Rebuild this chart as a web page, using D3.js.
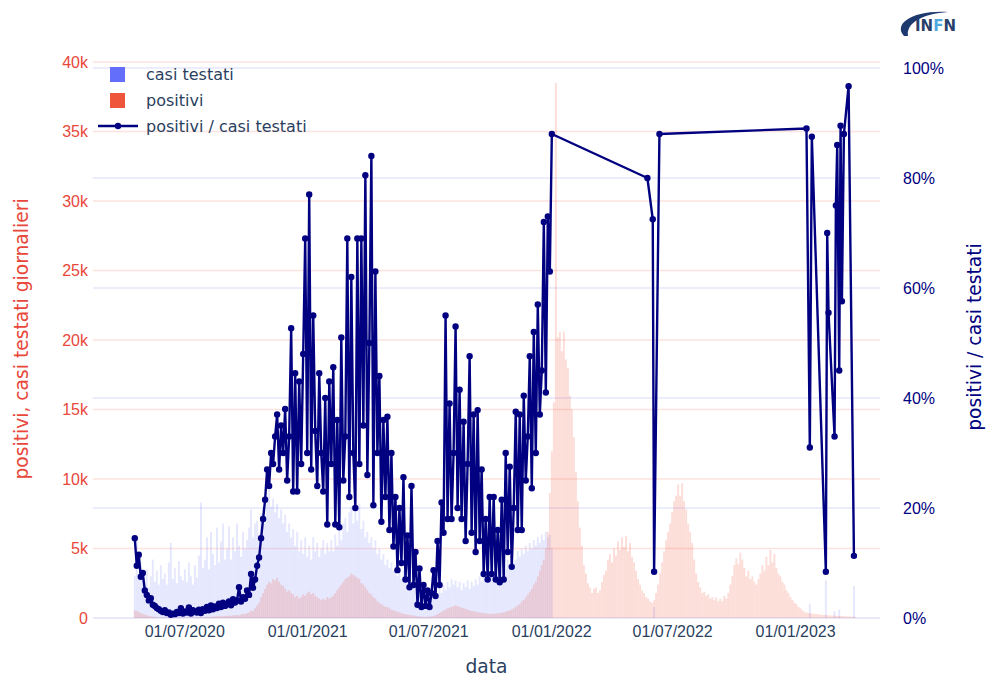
<!DOCTYPE html>
<html>
<head>
<meta charset="utf-8">
<script src="https://cdn.jsdelivr.net/npm/d3@7"></script>
<style>
  body { margin: 0; background: #fff; }
  svg { font-family: "DejaVu Sans", sans-serif; }
</style>
</head>
<body>
<div id="my_dataviz"></div>
<script>
// series sampled every 3 days starting from this date
var startDate = new Date(2020, 3, 18);
var stepDays = 3;

// casi testati (thousands), Apr 2020 -> early Jan 2022
var casiTestati = [
  3.0,5.5,2.8,4.0,3.2,
  2.5,3.5,2.2,3.0,4.2,2.6,3.4,2.4,3.8,2.8,
  3.2,2.4,4.0,5.4,2.8,3.6,2.5,4.1,3.0,2.7,
  3.5,2.6,4.0,3.0,2.4,3.8,2.9,4.5,8.3,3.6,
  4.2,5.8,3.5,6.2,4.6,3.8,6.5,4.0,5.5,6.8,4.2,
  5.0,6.6,4.2,5.8,4.8,6.8,5.2,4.4,6.2,5.0,
  5.6,6.5,7.8,5.8,6.8,7.0,6.0,7.5,8.0,7.2,8.8,
  9.2,8.0,8.6,7.6,8.2,7.2,7.8,6.8,7.4,6.2,
  6.8,5.8,6.4,5.2,6.2,4.8,5.6,4.6,5.8,4.4,
  5.2,4.2,5.8,4.8,5.4,4.4,5.0,5.6,4.6,5.4,4.8,
  5.6,4.8,6.0,5.2,6.4,5.6,6.8,7.2,6.2,
  7.6,8.0,6.8,7.8,7.0,8.2,6.4,7.0,5.8,6.2,5.4,
  5.8,5.0,5.6,4.6,5.0,4.2,4.6,3.8,4.2,3.6,
  4.0,3.4,3.8,3.0,3.6,2.8,3.4,2.6,3.0,2.4,
  2.6,2.2,2.4,1.8,2.2,1.6,2.0,1.5,1.8,1.4,
  1.8,1.5,2.0,1.6,2.2,1.8,2.4,2.0,2.6,2.2,2.8,
  2.4,2.7,2.2,2.6,2.0,2.5,2.2,2.7,2.1,2.6,
  2.3,2.8,2.4,3.0,2.6,3.2,2.8,3.4,2.9,3.3,
  3.0,3.6,3.2,3.8,3.4,4.0,3.5,4.2,3.8,4.4,4.0,
  4.2,4.8,4.4,5.0,4.6,5.2,4.8,5.4,5.0,5.6,
  5.2,5.8,5.4,6.0,5.6,6.2,5.8,6.0,5.0
];

// the few later days that still report casi testati (thousands)
var casiTestatiExtraDates = ["2022-06-04","2023-01-23","2023-02-16","2023-03-01","2023-03-08","2023-03-30"];
var casiTestatiExtra = [0.8, 1.0, 2.7, 0.5, 0.6, 2.3];

// positivi (thousands), Apr 2020 -> end of Mar 2023
var positivi = [
  0.55,0.5,0.45,0.35,0.3,
  0.25,0.2,0.15,0.12,0.1,0.08,0.06,0.05,0.05,0.04,
  0.04,0.03,0.04,0.03,0.03,0.04,0.03,0.04,0.03,0.03,
  0.03,0.03,0.04,0.03,0.04,0.05,0.04,0.05,0.06,0.05,
  0.06,0.08,0.07,0.1,0.09,0.12,0.11,0.13,0.14,0.13,0.15,
  0.15,0.18,0.16,0.2,0.18,0.22,0.2,0.25,0.3,0.28,
  0.35,0.4,0.55,0.5,0.7,0.9,1.1,1.5,1.8,2.1,2.4,
  2.6,2.5,2.8,2.7,2.9,2.6,2.4,2.3,2.1,1.9,
  2.0,1.8,1.7,1.5,1.6,1.4,1.5,1.7,1.6,1.8,
  1.9,1.7,1.8,1.6,1.5,1.4,1.3,1.4,1.3,1.5,1.4,
  1.5,1.6,1.8,2.0,2.2,2.4,2.6,2.8,2.9,
  3.0,3.2,3.1,3.0,2.9,2.8,2.5,2.4,2.2,2.0,1.8,
  1.7,1.5,1.4,1.2,1.1,1.0,0.9,0.8,0.8,0.7,
  0.6,0.55,0.5,0.45,0.4,0.35,0.3,0.28,0.25,0.22,
  0.2,0.18,0.15,0.12,0.1,0.1,0.08,0.08,0.1,0.1,
  0.12,0.15,0.2,0.28,0.35,0.45,0.55,0.6,0.7,0.75,0.8,
  0.85,0.9,0.85,0.8,0.75,0.7,0.65,0.6,0.55,0.5,
  0.5,0.45,0.42,0.4,0.38,0.35,0.33,0.32,0.3,0.3,
  0.3,0.32,0.34,0.36,0.38,0.42,0.45,0.5,0.55,0.6,0.7,
  0.8,0.9,1.0,1.2,1.3,1.5,1.7,1.9,2.1,2.4,
  2.6,3.0,3.4,3.8,4.2,5.0,6.2,9.0,12.0,
  15.5,38.5,20.2,20.6,19.2,20.6,18.6,18.0,16.0,15.0,13.0,10.5,8.4,6.5,5.2,3.8,3.2,2.5,2.2,1.8,2.1,2.2,1.8,
  2.0,2.6,3.1,3.4,4.2,4.6,4.0,5.0,4.5,5.5,4.9,5.8,5.1,5.9,4.8,5.4,4.4,4.0,3.4,2.8,2.4,2.0,1.8,1.5,1.4,1.2,1.1,1.3,
  1.8,2.4,3.2,4.0,4.8,5.6,6.2,6.8,7.6,8.4,8.8,9.6,8.8,9.7,8.4,7.8,6.8,6.2,5.4,4.2,3.2,2.6,2.2,1.8,1.9,1.6,1.7,1.4,1.5,1.3,1.5,1.2,1.4,1.2,1.6,1.4,1.8,
  2.4,3.0,3.8,4.3,3.9,4.7,4.2,3.6,3.0,3.4,2.8,3.0,2.6,2.4,2.8,3.2,3.8,3.4,4.4,3.8,4.9,4.0,4.6,3.6,3.2,3.0,2.6,2.4,2.0,1.8,1.5,1.3,1.1,1.0,0.8,
  0.7,0.55,0.45,0.4,0.35,0.35,0.3,0.3,0.28,0.25,0.25,0.22,0.22,0.2,0.2,0.18,0.18,0.16,0.16,0.15,0.14,0.13,0.12,0.12,0.1,0.1,0.09,0.08
];

// positivi / casi testati (%), same 3-day sampling as casiTestati
var rapporto = [
  14.5,9.5,11.5,7.5,8.2,
  5,4.2,3.2,3.6,2.4,2.2,1.8,1.6,1.3,1.1,
  1.4,0.9,1.0,0.6,0.8,0.7,1.1,0.9,1.8,0.8,
  1.2,1.0,1.9,0.8,1.4,1.2,1.0,1.5,0.9,1.6,
  1.3,2.0,1.4,2.3,1.6,2.1,1.8,2.6,2.0,2.8,2.2,
  2.5,3.0,2.3,3.4,2.8,3.2,5.6,3.0,3.8,3.5,
  5.0,4.2,8.0,5.5,7.0,9.5,11.0,14.5,18.0,21.5,27.0,
  24,30,28,33,37,27,35,30,38,25,
  33,52.7,23,44.5,23,43,28,48,69,30,
  77,27,55,34,24,44.5,30,23,40,17,43,
  28,45.6,17,36,16.5,51,25,33,69,
  22,62,30,20,69,28,69,35,80.5,26,50,
  84,20.5,63,30,44,17.5,36,22,36.6,16,
  30,13,22,8.7,20,10,25.6,7,15,5.6,
  24,6,12,2.4,9,2,6,2.2,5,2,
  4.5,8.7,4,14,6,21,15.5,55,18,39,18,
  30,53,20,41.5,18,35.7,14,28,47.6,15.5,
  37,12,37.8,14,27,8,18,7,22,8,
  22,7,16,6.5,21.5,7,30,12,27.5,9.3,20,
  37.5,16,37,16,40.4,25,33,47.6,23.6,52,
  30,57,37,45,72,41,73,63,88
];

// later, sparse ratio points (%)
var rapportoExtraDates = ["2022-05-25","2022-06-02","2022-06-04","2022-06-12","2023-01-18","2023-01-23","2023-01-26",
  "2023-02-16","2023-02-18","2023-02-20","2023-03-01","2023-03-03","2023-03-05","2023-03-08","2023-03-10",
  "2023-03-12","2023-03-15","2023-03-22","2023-03-30"];
var rapportoExtra = [80, 72.5, 8.4, 88, 89, 31, 87.5, 8.4, 70, 55.5, 33, 75, 86, 45, 89.5, 57.6, 88, 96.7, 11.3];

var xTickDates = ["2020-07-01","2021-01-01","2021-07-01","2022-01-01","2022-07-01","2023-01-01"];
var leftTicks = [0, 5, 10, 15, 20, 25, 30, 35, 40];
var rightTicks = [0, 20, 40, 60, 80, 100];

var colTestati = "#636efa", colPositivi = "#ef553b", colLeftAxis = "#e8473a", colLine = "#000080", colText = "#2a3f5f";

var W = 991, H = 681;
var plot = {left: 93, right: 880, top: 62, bottom: 618};

var parse = d3.timeParse("%Y-%m-%d");
function stepDate(i) { return d3.timeDay.offset(startDate, i * stepDays); }

var svg = d3.select("#my_dataviz").append("svg")
    .attr("width", W).attr("height", H);

var x = d3.scaleTime()
    .domain([new Date(2020, 1, 15, 12), new Date(2023, 4, 8)])
    .range([plot.left, plot.right]);
var yL = d3.scaleLinear().domain([0, 40]).range([plot.bottom, plot.top]);
var yR = d3.scaleLinear().domain([0, 100]).range([plot.bottom, 68]);

// gridlines: left axis pinkish, right axis bluish
svg.append("g").selectAll("line").data(leftTicks).enter().append("line")
    .attr("x1", plot.left).attr("x2", plot.right)
    .attr("y1", function(d) { return yL(d); }).attr("y2", function(d) { return yL(d); })
    .attr("stroke", "#fde3df").attr("stroke-width", 1.5);
svg.append("g").selectAll("line").data(rightTicks).enter().append("line")
    .attr("x1", plot.left).attr("x2", plot.right)
    .attr("y1", function(d) { return yR(d); }).attr("y2", function(d) { return yR(d); })
    .attr("stroke", "#e5e7fd").attr("stroke-width", 1.5);

// bars
var barW = 1.9;
var testatiData = casiTestati.map(function(v, i) { return {date: stepDate(i), v: v}; })
    .concat(casiTestatiExtraDates.map(function(d, i) { return {date: parse(d), v: casiTestatiExtra[i]}; }));
var positiviData = positivi.map(function(v, i) { return {date: stepDate(i), v: v}; });

svg.append("g").selectAll("rect").data(testatiData).enter().append("rect")
    .attr("x", function(d) { return x(d.date) - barW / 2; })
    .attr("width", barW)
    .attr("y", function(d) { return yL(d.v); })
    .attr("height", function(d) { return yL(0) - yL(d.v); })
    .attr("fill", colTestati).attr("fill-opacity", 0.17);

svg.append("g").selectAll("rect").data(positiviData).enter().append("rect")
    .attr("x", function(d) { return x(d.date) - barW / 2; })
    .attr("width", barW)
    .attr("y", function(d) { return yL(d.v); })
    .attr("height", function(d) { return yL(0) - yL(d.v); })
    .attr("fill", colPositivi).attr("fill-opacity", 0.2);

// ratio line
var lineData = rapporto.map(function(v, i) { return {date: stepDate(i), v: v}; })
    .concat(rapportoExtraDates.map(function(d, i) { return {date: parse(d), v: rapportoExtra[i]}; }));

svg.append("path").datum(lineData)
    .attr("fill", "none").attr("stroke", colLine).attr("stroke-width", 2.4)
    .attr("stroke-linejoin", "round")
    .attr("d", d3.line().x(function(d) { return x(d.date); }).y(function(d) { return yR(d.v); }));

svg.append("g").selectAll("circle").data(lineData).enter().append("circle")
    .attr("cx", function(d) { return x(d.date); })
    .attr("cy", function(d) { return yR(d.v); })
    .attr("r", 3.2).attr("fill", colLine);

// axes
var xAxis = svg.append("g")
    .attr("transform", "translate(0," + plot.bottom + ")")
    .call(d3.axisBottom(x).tickValues(xTickDates.map(parse)).tickFormat(d3.timeFormat("%d/%m/%Y")).tickSize(0).tickPadding(8));
xAxis.select(".domain").remove();
xAxis.selectAll("text").style("font-size", "16px").attr("fill", colText);

var yAxisL = svg.append("g")
    .attr("transform", "translate(" + (plot.left - 5) + ",0)")
    .call(d3.axisLeft(yL).tickValues(leftTicks).tickFormat(function(d) { return d === 0 ? "0" : d + "k"; }).tickSize(0).tickPadding(0));
yAxisL.select(".domain").remove();
yAxisL.selectAll("text").style("font-size", "16px").attr("fill", colLeftAxis);

var yAxisR = svg.append("g")
    .attr("transform", "translate(" + (plot.right + 23) + ",0)")
    .call(d3.axisRight(yR).tickValues(rightTicks).tickFormat(function(d) { return d + "%"; }).tickSize(0).tickPadding(0));
yAxisR.select(".domain").remove();
yAxisR.selectAll("text").style("font-size", "16px").attr("fill", colLine);

// axis titles
svg.append("text")
    .attr("x", (plot.left + plot.right) / 2).attr("y", 673)
    .attr("text-anchor", "middle").style("font-size", "18.7px").attr("fill", colText)
    .text("data");
svg.append("text")
    .attr("transform", "translate(28,339) rotate(-90)")
    .attr("text-anchor", "middle").style("font-size", "18.7px").attr("fill", colLeftAxis)
    .text("positivi, casi testati giornalieri");
svg.append("text")
    .attr("transform", "translate(981,337) rotate(-90)")
    .attr("text-anchor", "middle").style("font-size", "18.7px").attr("fill", colLine)
    .text("positivi / casi testati");

// legend
var legend = svg.append("g").attr("transform", "translate(98,74)");
legend.append("rect").attr("x", 12).attr("y", -7).attr("width", 15).attr("height", 15).attr("fill", colTestati);
legend.append("rect").attr("x", 12).attr("y", 19).attr("width", 15).attr("height", 15).attr("fill", colPositivi);
legend.append("line").attr("x1", 0).attr("x2", 40).attr("y1", 52).attr("y2", 52).attr("stroke", colLine).attr("stroke-width", 2.4);
legend.append("circle").attr("cx", 20).attr("cy", 52).attr("r", 3.2).attr("fill", colLine);
var legendLabels = ["casi testati", "positivi", "positivi / casi testati"];
legend.selectAll("text.lbl").data(legendLabels).enter().append("text")
    .attr("class", "lbl")
    .attr("x", 48).attr("y", function(d, i) { return i * 26 + 6; })
    .style("font-size", "16px").attr("fill", colText)
    .text(function(d) { return d; });

// INFN logo, top right
var logo = svg.append("g");
logo.append("path")
    .attr("d", "M904,36 C893,24 912,10 948,12 C922,14 906,23 908,36 Z")
    .attr("fill", "#1d3a6e");
var logoText = logo.append("text").attr("x", 915).attr("y", 31)
    .style("font-size", "15px").style("font-weight", "bold").attr("fill", "#2b3f6c");
logoText.append("tspan").text("IN");
logoText.append("tspan").attr("fill", "#4fa8e0").text("F");
logoText.append("tspan").text("N");
</script>
</body>
</html>
